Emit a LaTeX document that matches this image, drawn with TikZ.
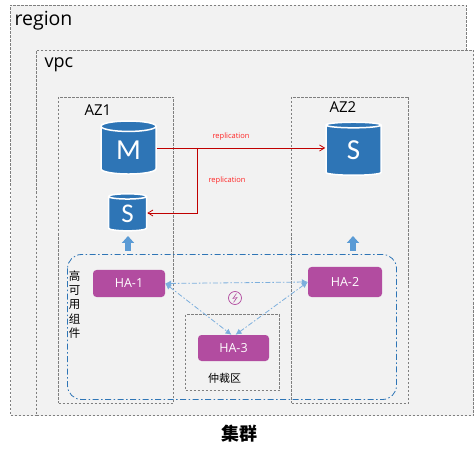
\documentclass[tikz,border=0pt]{standalone}
\usepackage{fontspec}
\setmainfont{Open Sans}
\newfontfamily\cjk{Noto Sans CJK SC}
\newfontfamily\dbfont{Carlito}
\usetikzlibrary{arrows.meta, positioning, calc, shapes.geometric}
\definecolor{zonefill}{HTML}{F2F2F2}
\definecolor{zoneline}{HTML}{7F7F7F}
\definecolor{dbblue}{HTML}{2E75B6}
\definecolor{habox}{HTML}{B24CA0}
\definecolor{linkblue}{HTML}{5B9BD5}
\definecolor{replred}{HTML}{C00000}
\tikzset{
    % dashed zone boxes (region, vpc, AZ, arbitration)
    zone/.style={draw=zoneline, dash pattern=on 2.5pt off 1.5pt, line width=0.8pt, inner sep=0pt},
    % database drawn as a blue cylinder with a white rim
    dbnode/.style={cylinder, shape border rotate=90, aspect=0.42, draw=white, line width=1.5pt,
        fill=dbblue, text=white, inner sep=0pt, font=\dbfont\fontsize{29}{29}\selectfont},
    % HA component, a purple rounded box
    hanode/.style={fill=habox, text=white, rounded corners=3.5pt, inner sep=0pt, font=\fontsize{12.5}{14}\selectfont},
    % red replication edges and their labels
    repl/.style={-{Straight Barb[length=5pt, width=6pt]}, draw=replred, line width=0.8pt},
    repltext/.style={text=red!85!white, font=\fontsize{7.5}{9}\selectfont, inner sep=0pt},
    % dash-dotted heartbeat link between HA nodes
    halink/.style={{Latex[length=6pt, width=6pt]}-{Latex[length=6pt, width=6pt]}, draw=linkblue!80!white,
        line width=0.8pt, dash pattern=on 5pt off 2pt on 1.5pt off 2pt},
    % thick up arrow from the HA group to a database
    uparrow/.style={-{Triangle[length=7pt, width=12pt]}, draw=linkblue, line width=6pt},
}

\begin{document}
\begin{tikzpicture}[x=1pt, y=-1pt]
    \useasboundingbox (0, 0) rectangle (474, 457);

    % ---- zones ----
    \node[zone, fill=zonefill, minimum width=455.5pt, minimum height=410.5pt] (region) at (238.25, 210.25) {};
    \node[zone, fill=zonefill, minimum width=437pt, minimum height=365pt] (vpc) at (255, 233) {};
    \node[zone, minimum width=115pt, minimum height=306pt] (az1) at (116, 250) {};
    \node[zone, minimum width=117pt, minimum height=306pt] (az2) at (350, 250) {};
    \node[zone, minimum width=94pt, minimum height=76pt] (arbit) at (232.5, 352.5) {};

    \node[font=\fontsize{19.5}{22}\selectfont, inner sep=0pt] (regiontext) at (43.5, 21) {region};
    \node[font=\fontsize{18}{20}\selectfont, inner sep=0pt] (vpctext) at (59, 65) {vpc};
    \node[font=\fontsize{15}{17}\selectfont, inner sep=0pt] (az1text) at (98, 110) {AZ1};
    \node[font=\fontsize{15}{17}\selectfont, inner sep=0pt] (az2text) at (343, 107) {AZ2};

    % ---- databases ----
    \node[dbnode, minimum width=55pt, minimum height=53pt] (dbM) at (128.5, 150.5) {\raisebox{-5pt}{M}};
    \node[dbnode, minimum width=38pt, minimum height=37pt, font=\dbfont\fontsize{27}{27}\selectfont] (dbS1) at (127.5, 214) {\raisebox{-4pt}{S}};
    \node[dbnode, minimum width=55pt, minimum height=53pt] (dbS2) at (353.5, 150.5) {\raisebox{-5pt}{S}};

    % ---- replication ----
    \coordinate (branch) at (197.5, 148);
    \draw[repl] (dbM.east |- branch) -- (dbS2.west |- branch);
    \draw[repl] (branch) |- (dbS1.east |- 0, 213);
    \node[repltext] (repltop) at (231, 137) {replication};
    \node[repltext] (replside) at (227, 181) {replication};

    % ---- HA group ----
    \draw[draw=dbblue, line width=0.8pt, dash pattern=on 6pt off 2.5pt on 1.5pt off 2.5pt, rounded corners=14pt]
        (67.5, 254.5) rectangle (396.5, 399.5);
    \node[font=\cjk\fontsize{11.5}{14.2}\selectfont, align=center, inner sep=0pt] (hagroup) at (74.5, 304.5)
        {高\\可\\用\\组\\件};

    \coordinate (upA) at (128, 251);
    \coordinate (upB) at (353, 251);
    \coordinate (upAend) at (128, 236);
    \coordinate (upBend) at (353, 236);
    \draw[uparrow] (upA) -- (upAend);
    \draw[uparrow] (upB) -- (upBend);

    \node[hanode, minimum width=72pt, minimum height=27pt] (ha1) at (129, 283.5) {HA-1};
    \node[hanode, minimum width=74pt, minimum height=30pt] (ha2) at (345, 282) {HA-2};
    \node[hanode, minimum width=71pt, minimum height=26pt] (ha3) at (233.5, 348) {HA-3};

    \draw[halink] (ha1.east) -- (ha2.west);
    \draw[halink] (ha1.east) -- ($(ha3.north) + (-2, 0)$);
    \draw[halink] (ha2.west) -- ($(ha3.north) + (2, 0)$);

    % small sync icon between the links
    \node[circle, draw=habox, line width=0.7pt, inner sep=0pt, minimum size=13pt] (icon) at (235, 298) {};
    \draw[habox, line width=0.6pt] (236.5, 293.5) -- (233, 298.5) -- (237, 297.5) -- (233.5, 302.5);

    \node[font=\cjk\fontsize{11}{13}\selectfont, inner sep=0pt] (arbittext) at (224.5, 378) {仲裁区};
    \node[font=\cjk\bfseries\fontsize{18}{20}\selectfont, inner sep=0pt] (cluster) at (239.5, 434) {集群};
\end{tikzpicture}
\end{document}
